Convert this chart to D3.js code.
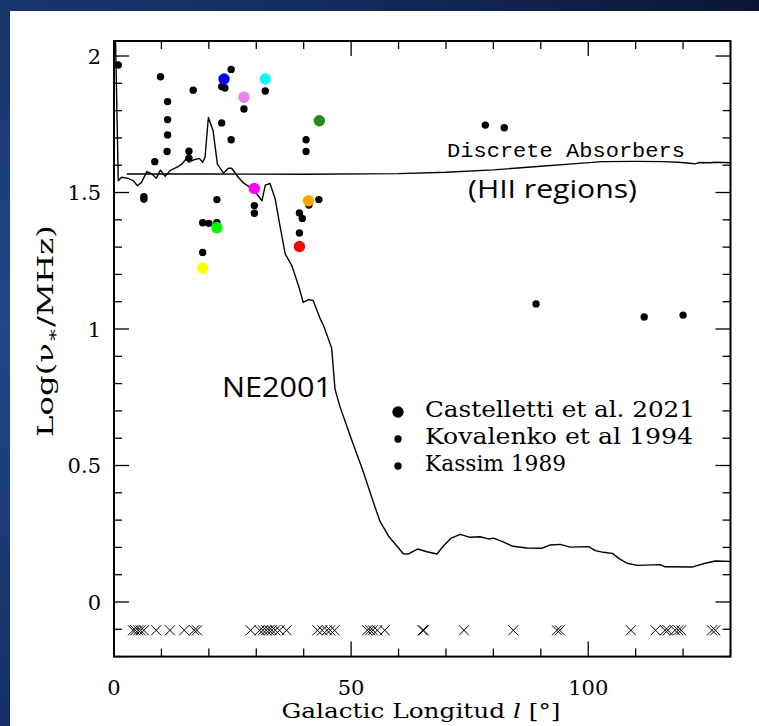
<!DOCTYPE html>
<html><head><meta charset="utf-8">
<script src="https://cdn.jsdelivr.net/npm/d3@7"></script>
<style>html,body{margin:0;padding:0;background:#0d1d40;overflow:hidden} svg{display:block}</style>
</head><body><svg id="c" width="759" height="726"></svg>
<script>
// ---------- data ----------
const castellettiL      = [23.2, 31.9, 27.4, 43.3, 29.6, 41.0, 21.7, 39.1, 18.7];
const castellettiLogNu  = [1.916, 1.916, 1.849, 1.763, 1.515, 1.470, 1.371, 1.302, 1.223];
const castellettiColors = ["#0000ff","#00ffff","#ee82ee","#228b22","#ff00ff","#ffa500","#00ff00","#ff0000","#ffff00"];

const kassimL     = [0.9, 9.8, 24.7, 22.7, 23.4, 16.7, 31.9, 11.3, 27.4, 11.3, 22.7, 11.3, 24.7, 40.5, 11.2, 15.8, 15.8, 40.5, 8.6];
const kassimLogNu = [1.967, 1.924, 1.951, 1.888, 1.883, 1.875, 1.872, 1.833, 1.806, 1.767, 1.755, 1.711, 1.693, 1.693, 1.650, 1.651, 1.626, 1.650, 1.613];
const kovalenkoL     = [6.3, 6.3, 21.7, 41.1, 43.2, 29.6, 29.6, 39.1, 39.7, 18.7, 20.0, 21.7, 39.1, 18.7, 78.3, 82.3, 89.0, 111.8, 120.0];
const kovalenkoLogNu = [1.485, 1.476, 1.474, 1.454, 1.474, 1.452, 1.424, 1.425, 1.405, 1.389, 1.387, 1.389, 1.352, 1.280, 1.747, 1.737, 1.092, 1.044, 1.051];

const ne2001L = [0.3,0.9,1.6,3.0,4.1,4.9,5.8,6.9,8.0,8.9,9.8,10.8,11.8,13.2,14.3,15.2,15.8,16.7,18.0,18.7,19.2,19.9,20.9,21.8,23.1,24.1,24.8,26.2,27.3,28.7,30.1,31.2,31.9,32.9,34.0,35.0,36.1,37.5,38.9,39.9,41.0,42.0,43.5,44.2,45.9,46.6,47.7,49.8,52.6,54.7,56.1,57.9,59.6,61.0,62.1,64.0,66.0,68.1,69.5,71.0,73.0,75.1,77.2,79.0,80.0,81.8,84.1,87.1,90.2,92.0,94.1,96.2,100.1,101.5,103.2,105.1,106.6,108.2,110.3,115.2,116.2,121.9,122.9,124.7,126.8,130.0];
const ne2001LogNu = [2.08,1.543,1.556,1.552,1.543,1.525,1.537,1.576,1.568,1.552,1.582,1.559,1.580,1.592,1.604,1.623,1.611,1.619,1.625,1.611,1.629,1.775,1.726,1.604,1.571,1.589,1.589,1.556,1.535,1.519,1.495,1.470,1.527,1.533,1.476,1.378,1.275,1.232,1.159,1.098,1.108,1.104,1.037,1.012,0.930,0.780,0.713,0.609,0.475,0.365,0.295,0.241,0.206,0.177,0.176,0.194,0.184,0.176,0.206,0.233,0.248,0.237,0.239,0.231,0.234,0.222,0.204,0.198,0.197,0.209,0.211,0.201,0.203,0.188,0.182,0.178,0.158,0.142,0.134,0.137,0.129,0.128,0.133,0.142,0.150,0.149];

const discreteL     = [2.7, 20, 40, 60, 70, 80, 90, 96, 103, 110, 116, 119, 121, 122.5, 123.5, 125.5, 127, 130];
const discreteLogNu = [1.568, 1.568, 1.567, 1.569, 1.574, 1.583, 1.596, 1.604, 1.613, 1.614, 1.613, 1.611, 1.608, 1.605, 1.610, 1.609, 1.611, 1.609];

const noAbsorptionL = [4.0,4.5,5.1,5.6,6.3,8.9,11.8,14.8,16.9,17.5, 28.8,30.7,31.4,32.1,32.7,33.3,34.0,34.9,36.4, 42.9,43.9,44.9,45.6,46.5, 53.4,54.0,54.6,55.5,57.1, 65.1,65.3, 73.8, 84.2, 93.4,94.0, 109.0, 114.2,116.2,116.8,118.3,119.0,119.6, 126.1,126.8];
const noAbsorptionLevel = -0.1;

const xTicksMajor = [0, 50, 100];
const xTickLabels = ["0", "50", "100"];
const yTicksMajor = [0, 0.5, 1, 1.5, 2];
const yTickLabels = ["0", "0.5", "1", "1.5", "2"];
const legendLabels = ["Castelletti et al. 2021", "Kovalenko et al 1994", "Kassim 1989"];

// ---------- drawing ----------
const svg = d3.select("#c");
const defs = svg.append("defs");
const grad = defs.append("radialGradient").attr("id","bg").attr("cx","0").attr("cy","0.45").attr("r","1.1");
grad.append("stop").attr("offset","0").attr("stop-color","#21488a");
grad.append("stop").attr("offset","0.55").attr("stop-color","#132c5e");
grad.append("stop").attr("offset","1").attr("stop-color","#0a1634");
svg.append("rect").attr("width",759).attr("height",726).attr("fill","url(#bg)");
svg.append("rect").attr("x",10).attr("y",11).attr("width",749).attr("height",715).attr("fill","#fff");

const x = d3.scaleLinear().domain([0,130]).range([114,730.5]);
const y = d3.scaleLinear().domain([-0.2,2.055]).range([656.6,41]);
const [x0,x1] = x.range(), [yb,yt] = y.range();

defs.append("clipPath").attr("id","clip").append("rect")
  .attr("x",x0).attr("y",yt).attr("width",x1-x0).attr("height",yb-yt);

const serif = "'DejaVu Serif', serif";

// ticks on all four sides (inward)
const gT = svg.append("g").attr("stroke","#000").attr("stroke-width",1.3);
const xMinor = d3.range(0,131,10), yMinor = d3.range(-2,21).map(d=>d/10);
xMinor.forEach(v=>{
  const L = (v%50===0)?15:8;
  gT.append("line").attr("x1",x(v)).attr("x2",x(v)).attr("y1",yb).attr("y2",yb-L);
  gT.append("line").attr("x1",x(v)).attr("x2",x(v)).attr("y1",yt).attr("y2",yt+L);
});
yMinor.forEach(v=>{
  const L = (Math.round(v*10)%5===0)?15:8;
  gT.append("line").attr("x1",x0).attr("x2",x0+L).attr("y1",y(v)).attr("y2",y(v));
  gT.append("line").attr("x1",x1).attr("x2",x1-L).attr("y1",y(v)).attr("y2",y(v));
});

// tick labels
svg.append("g").selectAll("text").data(xTicksMajor).join("text")
  .attr("x",d=>x(d)).attr("y",695).attr("text-anchor","middle")
  .attr("font-family",serif).attr("font-size",21).text((d,i)=>xTickLabels[i]);
svg.append("g").selectAll("text").data(yTicksMajor).join("text")
  .attr("x",101).attr("y",d=>y(d)+7.5).attr("text-anchor","end")
  .attr("font-family",serif).attr("font-size",21).text((d,i)=>yTickLabels[i]);

// axis titles
const xt = svg.append("text").attr("x",421).attr("y",718).attr("text-anchor","middle")
  .attr("font-family",serif).attr("font-size",21).attr("textLength",279).attr("lengthAdjust","spacingAndGlyphs");
xt.append("tspan").text("Galactic Longitud ");
xt.append("tspan").attr("font-style","italic").text("l");
xt.append("tspan").text(" [°]");

const yt2 = svg.append("text").attr("transform","translate(53,331) rotate(-90)").attr("text-anchor","middle")
  .attr("font-family",serif).attr("font-size",22).attr("textLength",212).attr("lengthAdjust","spacingAndGlyphs");
yt2.append("tspan").text("Log(ν");
yt2.append("tspan").attr("dy",5).attr("font-size",16).text("∗");
yt2.append("tspan").attr("dy",-5).text("/MHz)");

// curves
const plot = svg.append("g").attr("clip-path","url(#clip)");
const line = d3.line().x(d=>x(d[0])).y(d=>y(d[1]));
plot.append("path").datum(discreteL.map((v,i)=>[v,discreteLogNu[i]]))
  .attr("d",line).attr("fill","none").attr("stroke","#000").attr("stroke-width",1.4);
plot.append("path").datum(ne2001L.map((v,i)=>[v,ne2001LogNu[i]]))
  .attr("d",line).attr("fill","none").attr("stroke","#000").attr("stroke-width",1.4).attr("stroke-linejoin","round");

// crosses
const cs = 5;
plot.append("g").attr("stroke","#000").attr("stroke-width",1).selectAll("path").data(noAbsorptionL).join("path")
  .attr("d",d=>{const cx=x(d), cy=y(noAbsorptionLevel)+1;
    return `M${cx-cs},${cy-cs}L${cx+cs},${cy+cs}M${cx-cs},${cy+cs}L${cx+cs},${cy-cs}`;})
  .attr("fill","none");

// points
plot.append("g").selectAll("circle").data(kassimL.map((v,i)=>[v,kassimLogNu[i]])).join("circle")
  .attr("cx",d=>x(d[0])).attr("cy",d=>y(d[1])).attr("r",3.7).attr("fill","#000");
plot.append("g").selectAll("circle").data(kovalenkoL.map((v,i)=>[v,kovalenkoLogNu[i]])).join("circle")
  .attr("cx",d=>x(d[0])).attr("cy",d=>y(d[1])).attr("r",3.7).attr("fill","#000");
plot.append("g").selectAll("circle").data(castellettiL.map((v,i)=>[v,castellettiLogNu[i],castellettiColors[i]])).join("circle")
  .attr("cx",d=>x(d[0])).attr("cy",d=>y(d[1])).attr("r",5.7).attr("fill",d=>d[2]);

// frame
svg.append("rect").attr("x",x0).attr("y",yt).attr("width",x1-x0).attr("height",yb-yt)
  .attr("fill","none").attr("stroke","#000").attr("stroke-width",2);

// annotations
svg.append("text").attr("x",447).attr("y",157).attr("font-family","'Liberation Mono', monospace")
  .attr("font-size",21).attr("textLength",238).attr("lengthAdjust","spacingAndGlyphs").text("Discrete Absorbers");
svg.append("text").attr("x",468).attr("y",198).attr("font-family","'Open Sans', sans-serif")
  .attr("font-size",26).attr("textLength",169).attr("lengthAdjust","spacingAndGlyphs").text("(HII regions)");
svg.append("text").attr("x",222).attr("y",397).attr("font-family","'Open Sans', sans-serif")
  .attr("font-size",27).attr("textLength",110).attr("lengthAdjust","spacingAndGlyphs").text("NE2001");

// legend
const legR = [5.7,3.7,3.7], legY = [412,439,466];
legendLabels.forEach((t,i)=>{
  svg.append("circle").attr("cx",398).attr("cy",legY[i]).attr("r",legR[i]).attr("fill","#000");
  svg.append("text").attr("x",425).attr("y",legY[i]+5).attr("font-family",serif).attr("font-size",22)
    .attr("textLength",[270,268,141][i]).attr("lengthAdjust","spacingAndGlyphs").text(t);
});
</script></body></html>
